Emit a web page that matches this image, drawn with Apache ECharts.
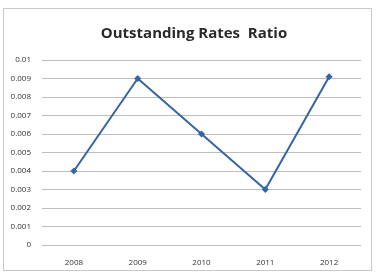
<!DOCTYPE html>
<html><head><meta charset="utf-8">
<script src="https://cdn.jsdelivr.net/npm/echarts@6/dist/echarts.min.js"></script>
<style>html,body{margin:0;padding:0;background:#fff}#c{width:376px;height:273px;}
#frame{position:absolute;left:3px;top:8px;width:367px;height:261px;border:1px solid #c8c8c8;pointer-events:none}</style>
</head><body><div id="c"></div><div id="frame"></div>
<script>
const categories = ['2008','2009','2010','2011','2012'];
const values = [0.004, 0.009, 0.006, 0.003, 0.0091];
const yTicks = [0,0.001,0.002,0.003,0.004,0.005,0.006,0.007,0.008,0.009,0.01];
const chart = echarts.init(document.getElementById('c'), null, {renderer:'canvas'});
chart.setOption({
  animation:false,
  title:{text:'Outstanding Rates  Ratio',left:189,top:21,textAlign:'center',
    textStyle:{fontFamily:'Open Sans',fontWeight:'bold',fontSize:15,color:'#2a2a2a'}},
  grid:{left:42,right:15,top:60,bottom:28},
  xAxis:{type:'category',data:categories,boundaryGap:true,
    axisLine:{show:false},axisTick:{show:false},
    axisLabel:{fontFamily:'Open Sans',fontSize:8,color:'#333',margin:14}},
  yAxis:{type:'value',min:0,max:0.01,interval:0.001,
    axisLabel:{fontFamily:'Open Sans',fontSize:8,color:'#333',margin:11,
      formatter:v=>{const t=yTicks.find(x=>Math.abs(x-v)<1e-9);return String(+(t!==undefined?t:v).toFixed(3));}},
    splitLine:{lineStyle:{color:'#bdbdbd',width:1}},axisLine:{show:false},axisTick:{show:false}},
  series:[{type:'line',data:values,symbol:'diamond',symbolSize:7,
    lineStyle:{color:'#3465a4',width:2},itemStyle:{color:'#3465a4'}}]
});
</script></body></html>
